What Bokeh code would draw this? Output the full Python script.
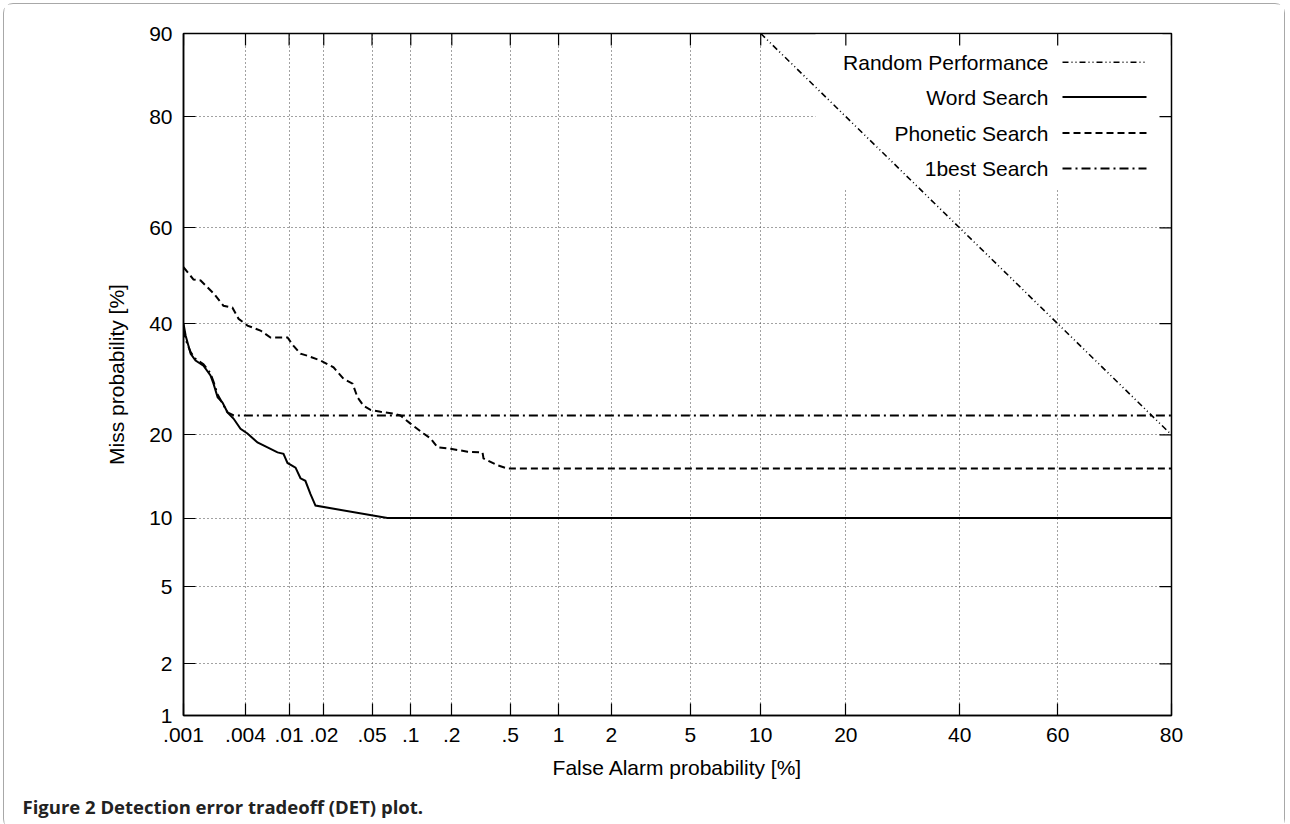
from statistics import NormalDist
from bokeh.plotting import figure
from bokeh.models import Range1d, FixedTicker, CustomJSTickFormatter, Title
from bokeh.core.properties import value
from bokeh.embed import file_html
from bokeh.resources import INLINE

# ---------------- data (percent) ----------------
x_ticks = [0.001, 0.004, 0.01, 0.02, 0.05, 0.1, 0.2, 0.5, 1, 2, 5, 10, 20, 40, 60, 80]
x_tick_labels = [".001", ".004", ".01", ".02", ".05", ".1", ".2", ".5", "1", "2", "5",
                 "10", "20", "40", "60", "80"]
y_ticks = [1, 2, 5, 10, 20, 40, 60, 80, 90]
y_tick_labels = ["1", "2", "5", "10", "20", "40", "60", "80", "90"]

random_fa = [10, 80]
random_miss = [90, 20]

word_fa = [0.001, 0.00105, 0.00118, 0.00132, 0.00158, 0.00185, 0.00198, 0.00217, 0.00242,
           0.0027, 0.00308, 0.00359, 0.00417, 0.00517, 0.00639, 0.00787, 0.00891, 0.00967,
           0.0114, 0.0126, 0.0139, 0.0154, 0.0170, 0.0662, 80]
word_miss = [40, 37.6, 34.0, 32.7, 31.7, 29.9, 28.4, 26.0, 25.1, 23.5, 22.5, 20.9, 20.2,
             18.9, 18.2, 17.5, 17.3, 16.1, 15.5, 14.2, 13.9, 12.4, 11.2, 10.0, 10.0]

phon_fa = [0.001, 0.00126, 0.00148, 0.00198, 0.00247, 0.00301, 0.00344, 0.00417, 0.00551,
           0.0068, 0.00967, 0.0109, 0.0126, 0.0145, 0.0188, 0.0242, 0.0293, 0.0348, 0.0382,
           0.0427, 0.0486, 0.0584, 0.0737, 0.0835, 0.0995, 0.1245, 0.140, 0.158, 0.196,
           0.258, 0.327, 0.332, 0.412, 0.479, 80]
phon_miss = [51.8, 49.2, 49.0, 46.3, 43.7, 43.3, 41.0, 39.6, 38.6, 37.2, 37.2, 35.6, 34.0,
             33.6, 32.7, 31.4, 29.3, 28.4, 26.0, 24.6, 23.9, 23.6, 23.3, 23.0, 21.7, 20.2,
             19.5, 18.2, 18.0, 17.6, 17.5, 16.7, 15.8, 15.4, 15.4]

best_fa = [0.001, 0.00105, 0.00118, 0.00132, 0.00158, 0.00185, 0.00198, 0.00217, 0.00242,
           0.0027, 0.0031, 80]
best_miss = [39.0, 36.8, 34.3, 33.0, 32.0, 30.3, 28.8, 26.5, 25.0, 23.5, 23.0, 23.0]

series_names = ["Random Performance", "Word Search", "Phonetic Search", "1best Search"]

# ---------------- normal-deviate (DET) scale ----------------
ND = NormalDist()


def probit(pct):
    return ND.inv_cdf(pct / 100.0)


def conv(vals):
    return [probit(v) for v in vals]


FONT = "Liberation Sans"
FS = "21px"

x0, x1 = probit(x_ticks[0]), probit(x_ticks[-1])
y0, y1 = probit(y_ticks[0]), probit(y_ticks[-1])

FW, FH = 988, 682
FL, FT = 183, 33   # frame left/top on the page (reference pixels)

p = figure(width=1280, height=812, output_backend="svg", toolbar_location=None,
           x_range=Range1d(x0, x1), y_range=Range1d(y0, y1),
           frame_width=FW, frame_height=FH,
           min_border_left=179, min_border_right=113, min_border_top=29, min_border_bottom=101,
           x_axis_label="False Alarm probability [%]", y_axis_label="Miss probability [%]")
p.background_fill_color = "white"
p.border_fill_color = "white"
p.outline_line_color = "black"
p.outline_line_width = 1.5
p.styles = {"border": "1px solid #a8a8a8", "border-radius": "10px",
            "margin-left": "3px", "margin-top": "3px"}

xpos = conv(x_ticks)
ypos = conv(y_ticks)

fmt_code = """
let best = 0, d = Infinity;
for (let i = 0; i < pos.length; i++) {
  const e = Math.abs(pos[i] - tick);
  if (e < d) { d = e; best = i; }
}
return labels[best];
"""
xfmt = CustomJSTickFormatter(args=dict(pos=xpos, labels=x_tick_labels), code=fmt_code)
yfmt = CustomJSTickFormatter(args=dict(pos=ypos, labels=y_tick_labels), code=fmt_code)


def style_axis(ax, ticks, fmt):
    ax.ticker = FixedTicker(ticks=ticks)
    ax.formatter = fmt
    ax.major_tick_in = 12
    ax.major_tick_out = 0
    ax.minor_tick_in = 0
    ax.minor_tick_out = 0
    ax.major_tick_line_color = "black"
    ax.major_tick_line_width = 1.2
    ax.axis_line_color = "black"
    ax.axis_line_width = 1.5
    ax.major_label_text_font = FONT
    ax.major_label_text_font_size = FS
    ax.major_label_text_color = "black"
    ax.axis_label_text_font = FONT
    ax.axis_label_text_font_size = FS
    ax.axis_label_text_font_style = "normal"
    ax.axis_label_text_color = "black"


style_axis(p.xaxis[0], xpos, xfmt)
style_axis(p.yaxis[0], ypos, yfmt)
p.xaxis[0].major_label_standoff = 12
p.xaxis[0].axis_label_standoff = 11
p.yaxis[0].major_label_standoff = 11
p.yaxis[0].axis_label_standoff = 18

p.xgrid.ticker = FixedTicker(ticks=xpos)
p.ygrid.ticker = FixedTicker(ticks=ypos)
for g in (p.xgrid, p.ygrid):
    g.grid_line_color = "#444444"
    g.grid_line_dash = "1 3"
    g.grid_line_width = 1


# reference-pixel -> data helpers (layout of key and mirror ticks)
def fx(px):
    return x0 + (px - FL) / FW * (x1 - x0)


def fy(py):
    return y1 - (py - FT) / FH * (y1 - y0)


# key background (hides grid behind key)
p.quad(left=[fx(815)], right=[fx(1162)], top=[fy(34)], bottom=[fy(188)],
       fill_color="white", line_color=None)

# mirrored inward ticks on top and right borders
p.segment(x0=xpos, y0=[y1] * len(xpos), x1=xpos, y1=[fy(FT + 12)] * len(xpos),
          line_color="black", line_width=1.2)
p.segment(x0=[x1] * len(ypos), y0=ypos, x1=[fx(FL + FW - 12)] * len(ypos), y1=ypos,
          line_color="black", line_width=1.2)

styles = [
    dict(line_dash="6 3 1 3 1 3", line_width=1.6),
    dict(line_dash="solid", line_width=2.0),
    dict(line_dash="7 4", line_width=2.0),
    dict(line_dash="9 4 2 4", line_width=2.0),
]
data = [(random_fa, random_miss), (word_fa, word_miss), (phon_fa, phon_miss), (best_fa, best_miss)]

for (fa, miss), st in zip(data, styles):
    p.line(conv(fa), conv(miss), line_color="black", line_join="miter", **st)

# key
key_y = [61.7, 96.5, 132.5, 168.0]
for name, st, ky in zip(series_names, styles, key_y):
    p.text(x=[fx(1048)], y=[fy(ky)], text=[name], text_align="right", text_baseline="middle",
           text_font=value(FONT), text_font_size=FS, text_color="black")
    p.line([fx(1062), fx(1146)], [fy(ky), fy(ky)], line_color="black", **st)

cap = Title(text="Figure 2 Detection error tradeoff (DET) plot.", align="left", offset=-161,
            text_font="Open Sans", text_font_size="18.5px", text_font_style="bold",
            text_color="#222222", standoff=20)
p.add_layout(cap, "below")

open("out.html", "w").write(file_html(p, INLINE))
